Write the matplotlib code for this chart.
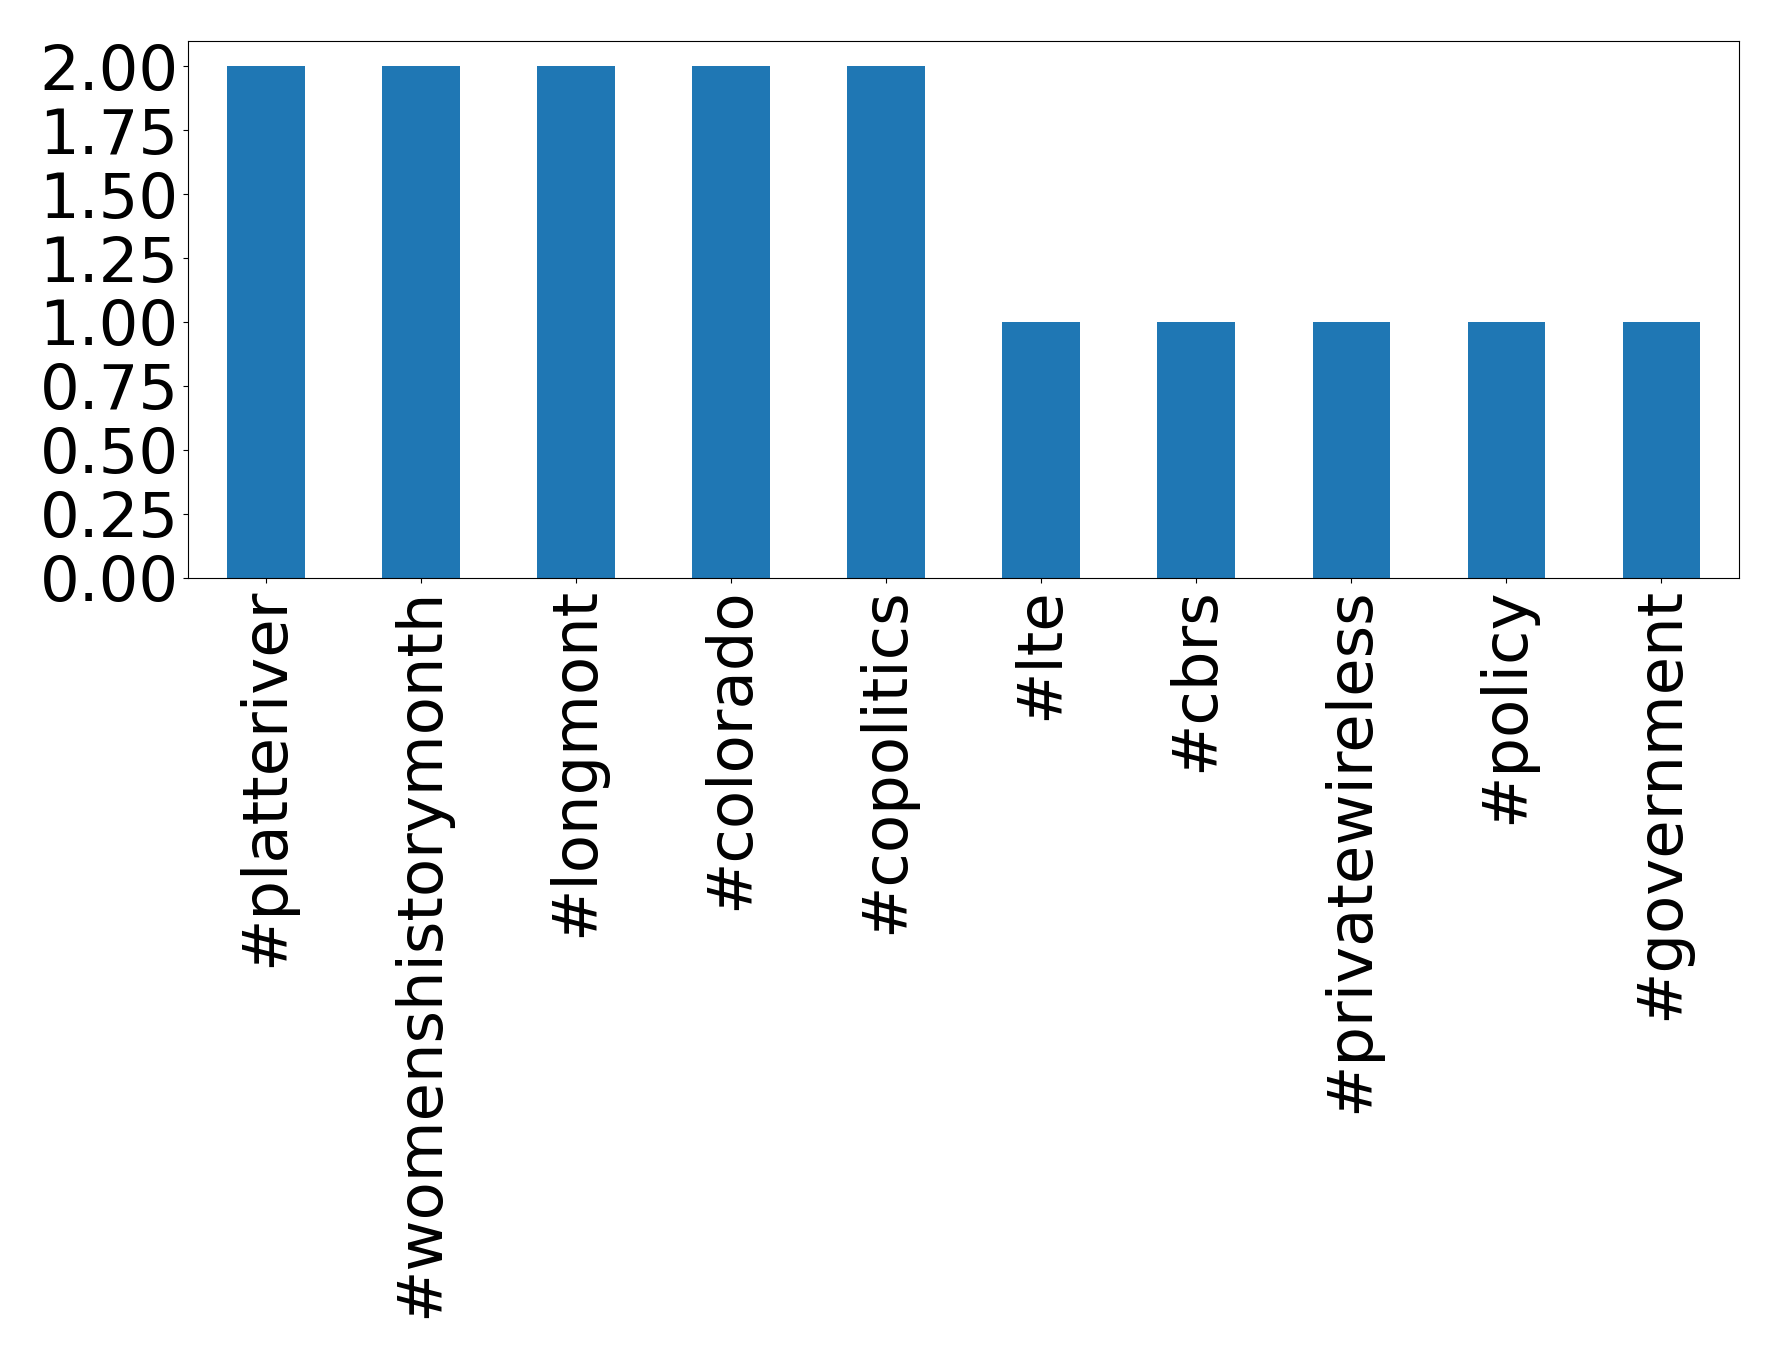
import matplotlib
matplotlib.use("Agg")
import matplotlib.pyplot as plt

# hashtag counts
tags = ["#platteriver", "#womenshistorymonth", "#longmont", "#colorado", "#copolitics",
        "#lte", "#cbrs", "#privatewireless", "#policy", "#government"]
counts = [2, 2, 2, 2, 2, 1, 1, 1, 1, 1]

fig, ax = plt.subplots(figsize=(17.78, 13.59), dpi=100)
x = list(range(len(tags)))
ax.bar(x, counts, width=0.5, color="#1f77b4")
ax.set_xlim(-0.5, len(tags) - 0.5)
ax.set_xticks(x)
ax.set_xticklabels(tags, rotation=90)
ax.set_yticks([0, 0.25, 0.5, 0.75, 1.0, 1.25, 1.5, 1.75, 2.0])
ax.set_yticklabels(["%.2f" % v for v in ax.get_yticks()])
ax.tick_params(labelsize=45)
plt.subplots_adjust(left=0.106, right=0.978, top=0.970, bottom=0.575)
plt.savefig("out.png")
